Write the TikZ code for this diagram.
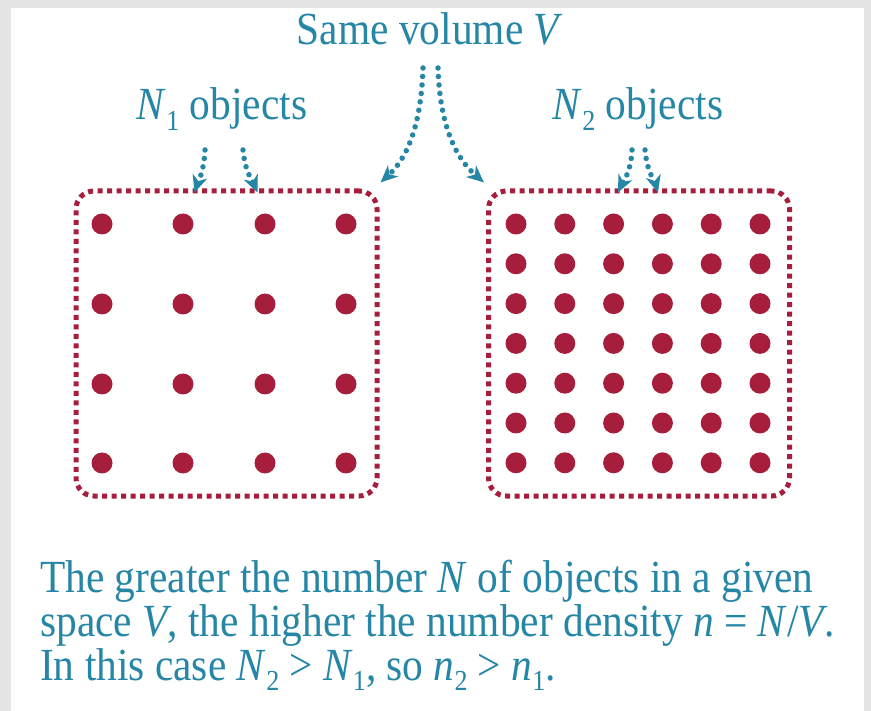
\documentclass[tikz,border=0pt]{standalone}
\usepackage{fontspec}
\setmainfont[FakeStretch=0.9]{Liberation Serif}
\usetikzlibrary{arrows.meta}

\definecolor{capblue}{RGB}{38,134,166}
\definecolor{dotred}{RGB}{166,30,60}

\newcommand{\idx}[1]{\raisebox{-0.22em}{\fontsize{29}{29}\selectfont #1}}

\tikzset{
  lbl/.style={text=capblue, font=\fontsize{46}{44}\selectfont, inner sep=0pt},
  vbox/.style={draw=dotred, line width=5pt, dash pattern=on 5pt off 4.5pt, rounded corners=18pt,
    minimum width=301pt, minimum height=305pt},
  ptr/.style={draw=capblue, line width=5.5pt, line cap=round, dash pattern=on 0pt off 8.5pt,
    -{Stealth[length=17pt,width=15pt,inset=5pt,fill=capblue]}},
}

\begin{document}
\begin{tikzpicture}[x=1pt,y=-1pt]
    \useasboundingbox (0,0) rectangle (871,711);
    \fill[gray!20] (0,0) rectangle (871,711);
    \fill[white] (11,8) rectangle (864,711);

    % labels
    \node[lbl] (same) at (430,29) {Same volume \textit{V}};
    \node[lbl] (lab1) at (222,109) {\textit{N}\idx{1} objects};
    \node[lbl] (lab2) at (638,109) {\textit{N}\idx{2} objects};

    % the two volumes
    \node[vbox] (box1) at (226.5,343.5) {};
    \node[vbox] (box2) at (639,343.5) {};

    \foreach \x in {102,183,265,346}
    \foreach \y in {224,304,384,463}
    \fill[dotred] (\x,\y) circle (10.5);

    \foreach \i in {0,...,5}
    \foreach \j in {0,...,6}
    \fill[dotred] (516+48.8*\i,224+39.8*\j) circle (10.5);

    % pointers
    \coordinate (v1) at (423,68);
    \coordinate (v2) at (438,68);
    \coordinate (a1) at (205,150);
    \coordinate (a2) at (243,150);
    \coordinate (b1) at (632,150);
    \coordinate (b2) at (645,150);

    \draw[ptr] (v1) .. controls (421,130) and (405,160) .. ([xshift=1pt,yshift=6pt]box1.north east);
    \draw[ptr] (v2) .. controls (440,130) and (458,160) .. ([xshift=-2pt,yshift=6pt]box2.north west);
    \draw[ptr] (a1) .. controls (204,172) and (198,182) .. ([xshift=-32pt,yshift=-4pt]box1.north);
    \draw[ptr] (a2) .. controls (245,172) and (253,182) .. ([xshift=31pt,yshift=-4pt]box1.north);
    \draw[ptr] (b1) .. controls (631,172) and (623,182) .. ([xshift=-21pt,yshift=-4pt]box2.north);
    \draw[ptr] (b2) .. controls (647,172) and (655,182) .. ([xshift=19pt,yshift=-4pt]box2.north);

    % caption
    \node[lbl, anchor=base west, align=left] (note) at (40,680)
      {The greater the number \textit{N} of objects in a given\\
       space \textit{V}, the higher the number density \textit{n} = \textit{N}/\textit{V}.\\
       In this case \textit{N}\idx{2} > \textit{N}\idx{1}, so \textit{n}\idx{2} > \textit{n}\idx{1}.};

\end{tikzpicture}
\end{document}
